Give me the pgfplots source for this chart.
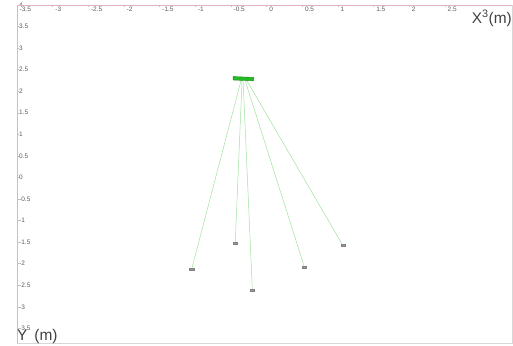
\documentclass[border=0pt]{standalone}
\usepackage{pgfplots}
\pgfplotsset{compat=1.18}
\usepackage{fontspec}
\setmainfont{Liberation Sans}
\definecolor{axpink}{RGB}{228,178,190}
\definecolor{axgray}{RGB}{215,215,215}
\definecolor{lgreen}{RGB}{160,225,160}
\definecolor{bargreen}{RGB}{35,185,35}
\definecolor{lbl}{RGB}{90,90,90}
\begin{document}
\begin{tikzpicture}
\useasboundingbox (-17bp,-3bp) rectangle (496bp,343bp);
\begin{axis}[
  at={(0,0)}, anchor=south west,
  scale only axis, width=495bp, height=338bp,
  xmin=-3.5, xmax=3.44, ymin=-3.84, ymax=4,
  axis line style={draw=none},
  xtick={-3.5,-3,...,2.5}, ytick={-3.5,-3,...,4},
  xtick pos=right, ytick pos=left,
  xticklabel pos=right, yticklabel pos=left,
  tick align=inside, major tick length=2bp,
  tick style={axpink, line width=0.4pt},
  /pgf/number format/assume math mode=true,
  xticklabel style={anchor=north west, inner sep=1bp, xshift=1.5bp, yshift=-0.5bp, font=\fontsize{6.5}{6.5}\selectfont, text=lbl},
  yticklabel style={anchor=west, inner sep=1bp, xshift=1bp, font=\fontsize{6.5}{6.5}\selectfont, text=lbl},
  clip=false,
]
\draw[axgray, line width=0.8pt] (rel axis cs:0,0) -- (rel axis cs:1,0) -- (rel axis cs:1,1);
\draw[axpink, line width=0.8pt] (rel axis cs:0,0) -- (rel axis cs:0,1) -- (rel axis cs:1,1);
% beams
\addplot[lgreen, line width=0.5pt] coordinates {(-0.36,2.24) (-1.05,-2.12)};
\addplot[lgreen, line width=0.5pt] coordinates {(-0.345,2.24) (-0.44,-1.52)};
\addplot[lgreen, line width=0.5pt] coordinates {(-0.33,2.24) (-0.20,-2.62)};
\addplot[lgreen, line width=0.5pt] coordinates {(-0.30,2.24) (0.53,-2.08)};
\addplot[lgreen, line width=0.5pt] coordinates {(-0.275,2.24) (1.07,-1.58)};
% sensor bar
\addplot[fill=bargreen, draw=bargreen!75!black, line width=0.4pt] coordinates {(-0.47,2.34) (-0.18,2.32) (-0.185,2.24) (-0.47,2.26)} -- cycle;
% targets
\addplot[only marks, mark=square*, mark size=1.4bp, mark options={xscale=1.5, yscale=0.8, fill=gray!80, draw=gray}] coordinates {(-1.05,-2.12) (-0.44,-1.52) (-0.20,-2.62) (0.53,-2.08) (1.07,-1.58)};
\node[anchor=north east, inner sep=0pt, text=black!75, font=\fontsize{15.5}{15.5}\selectfont] at (rel axis cs:1,0.985) {X\textsuperscript{3}(m)};
\node[anchor=south west, inner sep=0pt, text=black!75, font=\fontsize{15.5}{15.5}\selectfont] at (rel axis cs:0.0,-0.002) {Y\hspace{0.45em}(m)};
\end{axis}
\end{tikzpicture}
\end{document}
